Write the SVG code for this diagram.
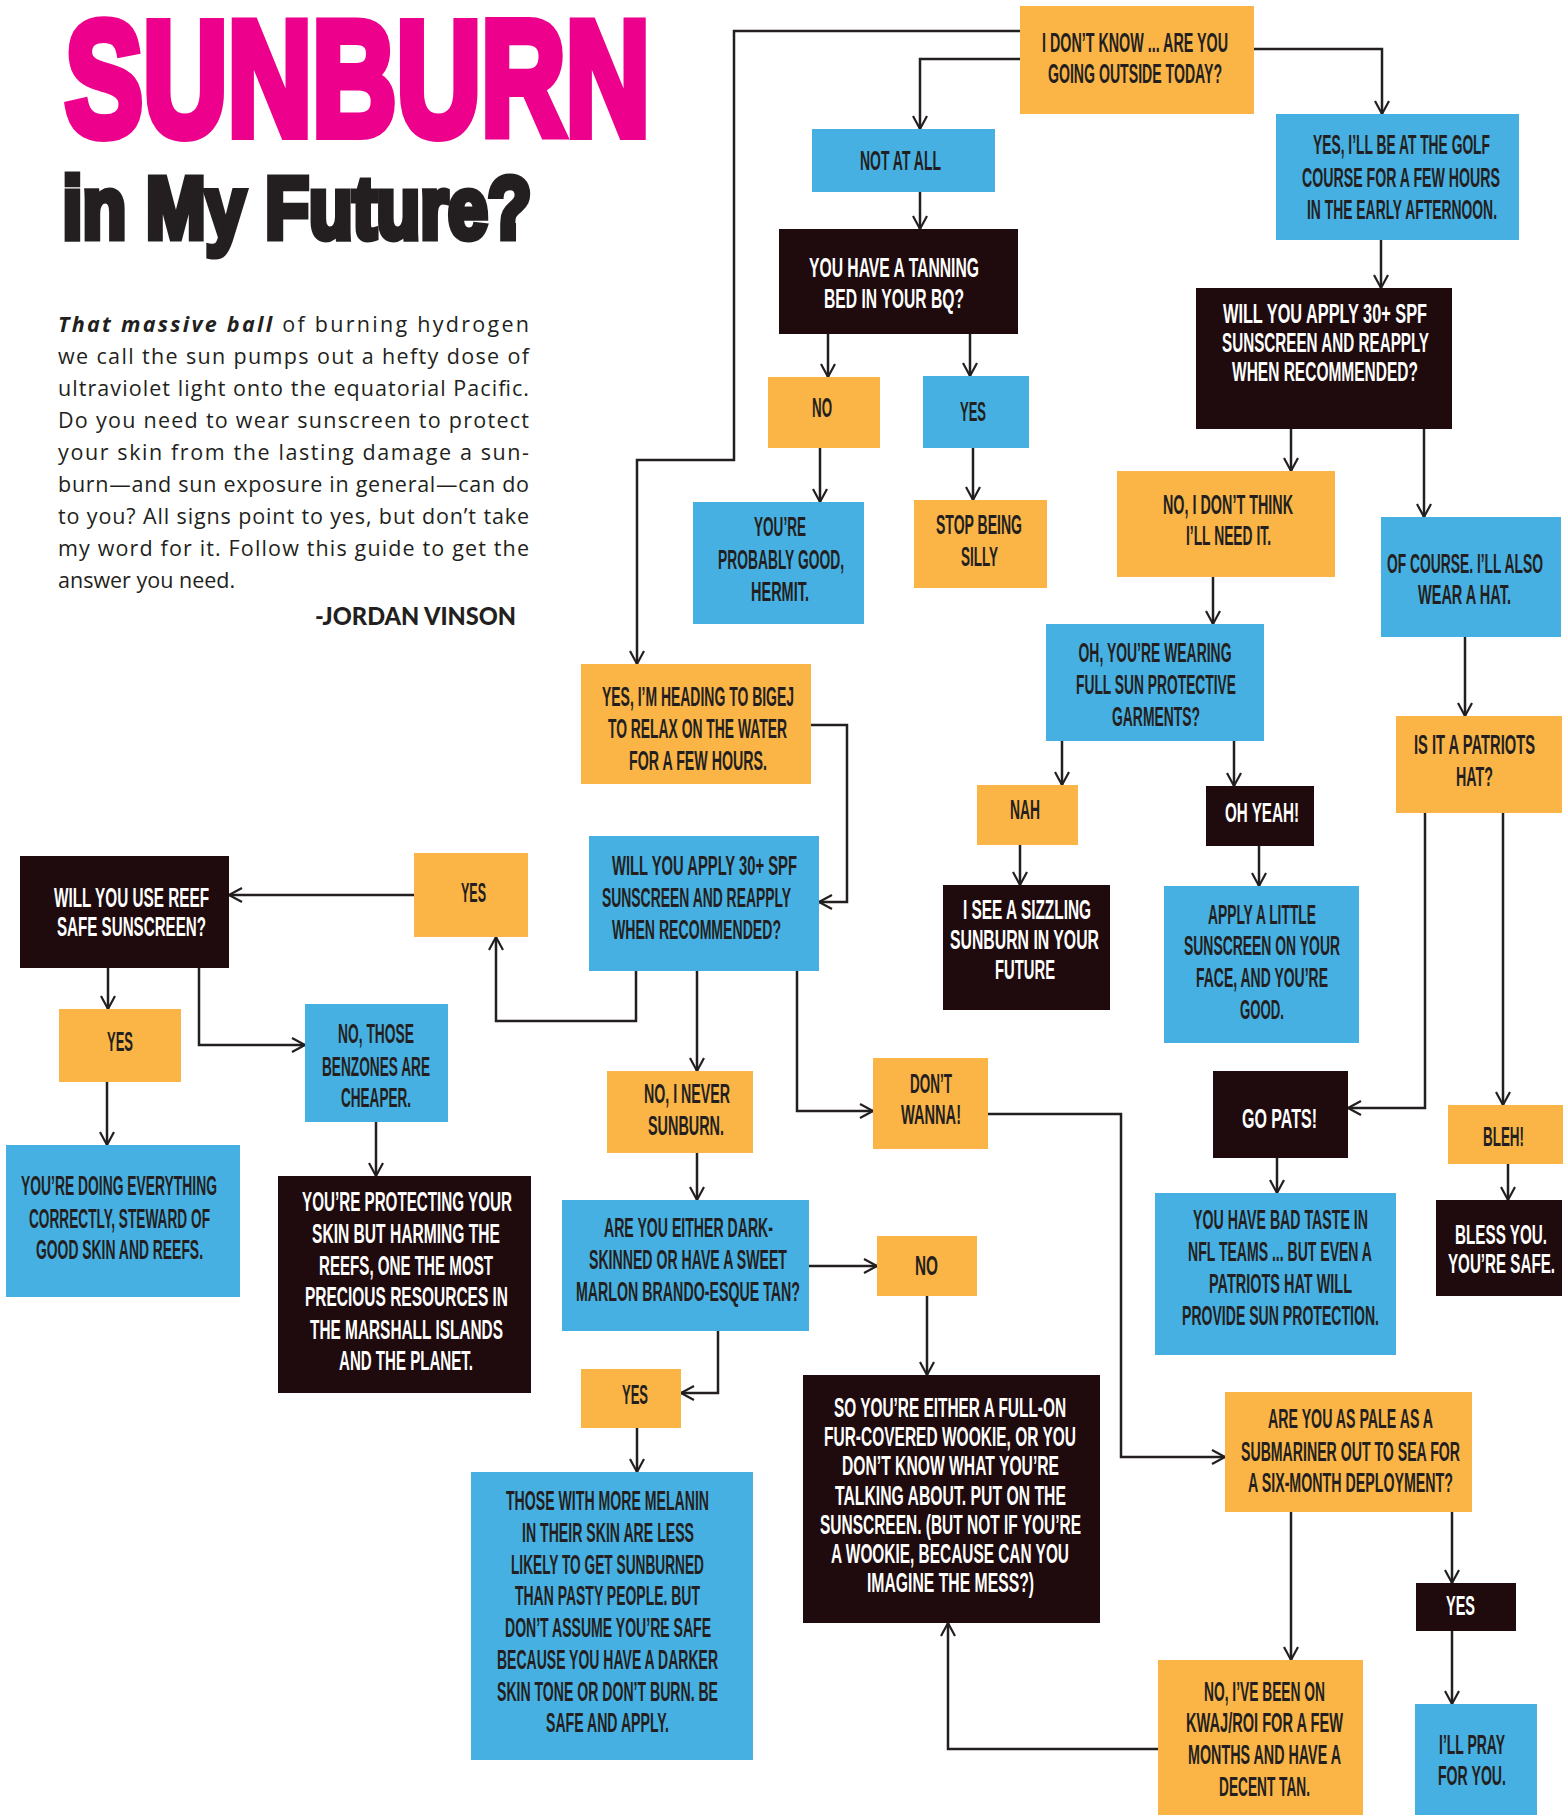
<svg xmlns="http://www.w3.org/2000/svg" width="1564" height="1819" viewBox="0 0 1564 1819">
<style>
.o{fill:#FBB546}.b{fill:#46B0E3}.d{fill:#1F0B0D}
.t{font-family:"Liberation Sans Narrow","Liberation Sans",Arial,sans-serif;font-size:27px;font-weight:bold;text-anchor:middle;fill:#231F20}
.w{fill:#FFFFFF}
.c path{fill:none;stroke:#231F20;stroke-width:2.5;marker-end:url(#ah)}
.p{font-family:"Open Sans","Noto Sans",sans-serif;font-size:21.5px;fill:#231F20}
</style>
<defs>
<marker id="ah" markerUnits="userSpaceOnUse" markerWidth="18" markerHeight="18" refX="14" refY="8" orient="auto">
<path d="M1,1 L14,8 L1,15" fill="none" stroke="#231F20" stroke-width="2.2"/>
</marker>
</defs>
<rect width="1564" height="1819" fill="#FFFFFF"/>

<g id="title">
<text x="65" y="135" font-family="Liberation Sans,Arial,sans-serif" font-weight="bold" font-size="163" fill="#EC008C" stroke="#EC008C" stroke-width="10" stroke-linejoin="miter" textLength="585" lengthAdjust="spacingAndGlyphs">SUNBURN</text>
<text x="62.5" y="237.5" font-family="Liberation Sans,Arial,sans-serif" font-weight="bold" font-size="87" fill="#231F20" stroke="#231F20" stroke-width="7" stroke-linejoin="miter" textLength="469" lengthAdjust="spacingAndGlyphs">in My Future?</text>
</g>
<g id="intro" class="p">
<text x="58" y="332" textLength="471" lengthAdjust="spacing"><tspan font-weight="bold" font-style="italic">That massive ball</tspan> of burning hydrogen</text>
<text x="58" y="364" textLength="471" lengthAdjust="spacing">we call the sun pumps out a hefty dose of</text>
<text x="58" y="396" textLength="471" lengthAdjust="spacing">ultraviolet light onto the equatorial Pacific.</text>
<text x="58" y="428" textLength="471" lengthAdjust="spacing">Do you need to wear sunscreen to protect</text>
<text x="58" y="460" textLength="471" lengthAdjust="spacing">your skin from the lasting damage a sun-</text>
<text x="58" y="492" textLength="471" lengthAdjust="spacing">burn—and sun exposure in general—can do</text>
<text x="58" y="524" textLength="471" lengthAdjust="spacing">to you? All signs point to yes, but don’t take</text>
<text x="58" y="556" textLength="471" lengthAdjust="spacing">my word for it. Follow this guide to get the</text>
<text x="58" y="588">answer you need.</text>
<text x="315" y="625" font-family="Lato,sans-serif" font-weight="900" font-size="25" textLength="201" lengthAdjust="spacingAndGlyphs">-JORDAN VINSON</text>
</g>

<g class="c" id="connectors">
<path d="M1020,31 H734 V460 H637 V664"/>
<path d="M1020,59 H920 V129"/>
<path d="M1254,49 H1382 V114"/>
<path d="M920,192 V229"/>
<path d="M828,334 V377"/>
<path d="M970,334 V376"/>
<path d="M820,448 V502"/>
<path d="M973,448 V500"/>
<path d="M1381,240 V288"/>
<path d="M1291,429 V471"/>
<path d="M1424,429 V517"/>
<path d="M1213,577 V624"/>
<path d="M1062,741 V785"/>
<path d="M1234,741 V786"/>
<path d="M1020,845 V885"/>
<path d="M1259,846 V886"/>
<path d="M1465,637 V716"/>
<path d="M1425,813 V1108 H1348"/>
<path d="M1503,813 V1105"/>
<path d="M1277,1158 V1193"/>
<path d="M1508,1164 V1200"/>
<path d="M811,725 H847 V902 H819"/>
<path d="M636,971 V1021 H496 V937"/>
<path d="M414,895 H229"/>
<path d="M697,971 V1071"/>
<path d="M797,971 V1111 H873"/>
<path d="M108,968 V1009"/>
<path d="M199,968 V1045 H305"/>
<path d="M107,1082 V1145"/>
<path d="M376,1122 V1176"/>
<path d="M697,1153 V1200"/>
<path d="M809,1266 H877"/>
<path d="M718,1331 V1393 H681"/>
<path d="M637,1428 V1472"/>
<path d="M927,1296 V1375"/>
<path d="M988,1114 H1121 V1457 H1225"/>
<path d="M1291,1512 V1660"/>
<path d="M1452,1512 V1583"/>
<path d="M1452,1631 V1704"/>
<path d="M1158,1749 H948 V1623"/>
</g>

<g id="n1"><rect class="o" x="1020" y="6" width="234" height="108"/>
<text class="t" x="1135" y="52" textLength="186" lengthAdjust="spacingAndGlyphs">I DON’T KNOW ... ARE YOU</text>
<text class="t" x="1135" y="83" textLength="174" lengthAdjust="spacingAndGlyphs">GOING OUTSIDE TODAY?</text></g>
<g id="n2"><rect class="b" x="812" y="129" width="183" height="63"/>
<text class="t" x="900.5" y="170" textLength="81" lengthAdjust="spacingAndGlyphs">NOT AT ALL</text></g>
<g id="n3"><rect class="d" x="779" y="229" width="239" height="105"/>
<text class="t w" x="894" y="277" textLength="170" lengthAdjust="spacingAndGlyphs">YOU HAVE A TANNING</text>
<text class="t w" x="894" y="308" textLength="140" lengthAdjust="spacingAndGlyphs">BED IN YOUR BQ?</text></g>
<g id="n4"><rect class="o" x="768" y="377" width="112" height="71"/>
<text class="t" x="822" y="417" textLength="20" lengthAdjust="spacingAndGlyphs">NO</text></g>
<g id="n5"><rect class="b" x="923" y="376" width="106" height="72"/>
<text class="t" x="973" y="421" textLength="26" lengthAdjust="spacingAndGlyphs">YES</text></g>
<g id="n6"><rect class="b" x="693" y="502" width="171" height="122"/>
<text class="t" x="780" y="536" textLength="52" lengthAdjust="spacingAndGlyphs">YOU’RE</text>
<text class="t" x="781" y="569" textLength="126" lengthAdjust="spacingAndGlyphs">PROBABLY GOOD,</text>
<text class="t" x="780" y="601" textLength="58" lengthAdjust="spacingAndGlyphs">HERMIT.</text></g>
<g id="n7"><rect class="o" x="914" y="500" width="133" height="88"/>
<text class="t" x="979" y="534" textLength="86" lengthAdjust="spacingAndGlyphs">STOP BEING</text>
<text class="t" x="979.5" y="566" textLength="37" lengthAdjust="spacingAndGlyphs">SILLY</text></g>
<g id="n8"><rect class="b" x="1276" y="114" width="243" height="126"/>
<text class="t" x="1401.5" y="154" textLength="177" lengthAdjust="spacingAndGlyphs">YES, I’LL BE AT THE GOLF</text>
<text class="t" x="1401" y="187" textLength="198" lengthAdjust="spacingAndGlyphs">COURSE FOR A FEW HOURS</text>
<text class="t" x="1402" y="219" textLength="190" lengthAdjust="spacingAndGlyphs">IN THE EARLY AFTERNOON.</text></g>
<g id="n9"><rect class="d" x="1196" y="288" width="256" height="141"/>
<text class="t w" x="1325" y="323" textLength="204" lengthAdjust="spacingAndGlyphs">WILL YOU APPLY 30+ SPF</text>
<text class="t w" x="1325.5" y="352" textLength="207" lengthAdjust="spacingAndGlyphs">SUNSCREEN AND REAPPLY</text>
<text class="t w" x="1325" y="381" textLength="186" lengthAdjust="spacingAndGlyphs">WHEN RECOMMENDED?</text></g>
<g id="n10"><rect class="o" x="1117" y="471" width="218" height="106"/>
<text class="t" x="1228" y="514" textLength="130" lengthAdjust="spacingAndGlyphs">NO, I DON’T THINK</text>
<text class="t" x="1228.5" y="545" textLength="85" lengthAdjust="spacingAndGlyphs">I’LL NEED IT.</text></g>
<g id="n11"><rect class="b" x="1381" y="517" width="180" height="120"/>
<text class="t" x="1465" y="573" textLength="156" lengthAdjust="spacingAndGlyphs">OF COURSE. I’LL ALSO</text>
<text class="t" x="1464.5" y="604" textLength="93" lengthAdjust="spacingAndGlyphs">WEAR A HAT.</text></g>
<g id="n12"><rect class="b" x="1046" y="624" width="218" height="117"/>
<text class="t" x="1155" y="662" textLength="153" lengthAdjust="spacingAndGlyphs">OH, YOU’RE WEARING</text>
<text class="t" x="1156" y="694" textLength="160" lengthAdjust="spacingAndGlyphs">FULL SUN PROTECTIVE</text>
<text class="t" x="1156" y="726" textLength="88" lengthAdjust="spacingAndGlyphs">GARMENTS?</text></g>
<g id="n13"><rect class="o" x="977" y="785" width="101" height="60"/>
<text class="t" x="1025" y="819" textLength="30" lengthAdjust="spacingAndGlyphs">NAH</text></g>
<g id="n14"><rect class="d" x="1206" y="786" width="108" height="60"/>
<text class="t w" x="1262" y="822" textLength="74" lengthAdjust="spacingAndGlyphs">OH YEAH!</text></g>
<g id="n15"><rect class="d" x="943" y="885" width="167" height="125"/>
<text class="t w" x="1027" y="919" textLength="128" lengthAdjust="spacingAndGlyphs">I SEE A SIZZLING</text>
<text class="t w" x="1024.5" y="949" textLength="149" lengthAdjust="spacingAndGlyphs">SUNBURN IN YOUR</text>
<text class="t w" x="1025" y="979" textLength="60" lengthAdjust="spacingAndGlyphs">FUTURE</text></g>
<g id="n16"><rect class="b" x="1164" y="886" width="195" height="157"/>
<text class="t" x="1262" y="924" textLength="108" lengthAdjust="spacingAndGlyphs">APPLY A LITTLE</text>
<text class="t" x="1262" y="955" textLength="156" lengthAdjust="spacingAndGlyphs">SUNSCREEN ON YOUR</text>
<text class="t" x="1262" y="987" textLength="132" lengthAdjust="spacingAndGlyphs">FACE, AND YOU’RE</text>
<text class="t" x="1262" y="1019" textLength="44" lengthAdjust="spacingAndGlyphs">GOOD.</text></g>
<g id="n17"><rect class="o" x="1396" y="716" width="166" height="97"/>
<text class="t" x="1474.5" y="754" textLength="121" lengthAdjust="spacingAndGlyphs">IS IT A PATRIOTS</text>
<text class="t" x="1474.5" y="786" textLength="37" lengthAdjust="spacingAndGlyphs">HAT?</text></g>
<g id="n18"><rect class="o" x="873" y="1058" width="115" height="91"/>
<text class="t" x="931" y="1093" textLength="42" lengthAdjust="spacingAndGlyphs">DON’T</text>
<text class="t" x="931" y="1124" textLength="60" lengthAdjust="spacingAndGlyphs">WANNA!</text></g>
<g id="n19"><rect class="d" x="1213" y="1071" width="135" height="87"/>
<text class="t w" x="1279.5" y="1128" textLength="75" lengthAdjust="spacingAndGlyphs">GO PATS!</text></g>
<g id="n20"><rect class="o" x="1448" y="1105" width="115" height="59"/>
<text class="t" x="1503.5" y="1146" textLength="41" lengthAdjust="spacingAndGlyphs">BLEH!</text></g>
<g id="n21"><rect class="b" x="1155" y="1193" width="241" height="162"/>
<text class="t" x="1280.5" y="1229" textLength="175" lengthAdjust="spacingAndGlyphs">YOU HAVE BAD TASTE IN</text>
<text class="t" x="1280" y="1261" textLength="184" lengthAdjust="spacingAndGlyphs">NFL TEAMS ... BUT EVEN A</text>
<text class="t" x="1280.5" y="1293" textLength="143" lengthAdjust="spacingAndGlyphs">PATRIOTS HAT WILL</text>
<text class="t" x="1280.5" y="1325" textLength="197" lengthAdjust="spacingAndGlyphs">PROVIDE SUN PROTECTION.</text></g>
<g id="n22"><rect class="d" x="1436" y="1200" width="126" height="96"/>
<text class="t w" x="1501" y="1244" textLength="92" lengthAdjust="spacingAndGlyphs">BLESS YOU.</text>
<text class="t w" x="1501.5" y="1273" textLength="107" lengthAdjust="spacingAndGlyphs">YOU’RE SAFE.</text></g>
<g id="n23"><rect class="o" x="877" y="1236" width="100" height="60"/>
<text class="t" x="926.5" y="1275" textLength="23" lengthAdjust="spacingAndGlyphs">NO</text></g>
<g id="n24"><rect class="d" x="803" y="1375" width="297" height="248"/>
<text class="t w" x="950" y="1417" textLength="232" lengthAdjust="spacingAndGlyphs">SO YOU’RE EITHER A FULL-ON</text>
<text class="t w" x="950" y="1446" textLength="252" lengthAdjust="spacingAndGlyphs">FUR-COVERED WOOKIE, OR YOU</text>
<text class="t w" x="950.5" y="1475" textLength="217" lengthAdjust="spacingAndGlyphs">DON’T KNOW WHAT YOU’RE</text>
<text class="t w" x="950.5" y="1505" textLength="231" lengthAdjust="spacingAndGlyphs">TALKING ABOUT.  PUT ON THE</text>
<text class="t w" x="950.5" y="1534" textLength="261" lengthAdjust="spacingAndGlyphs">SUNSCREEN. (BUT NOT IF YOU’RE</text>
<text class="t w" x="950" y="1563" textLength="238" lengthAdjust="spacingAndGlyphs">A WOOKIE, BECAUSE CAN YOU</text>
<text class="t w" x="950.5" y="1592" textLength="167" lengthAdjust="spacingAndGlyphs">IMAGINE THE MESS?)</text></g>
<g id="n25"><rect class="o" x="1225" y="1392" width="247" height="120"/>
<text class="t" x="1350.5" y="1428" textLength="165" lengthAdjust="spacingAndGlyphs">ARE YOU AS PALE AS A</text>
<text class="t" x="1350.5" y="1461" textLength="219" lengthAdjust="spacingAndGlyphs">SUBMARINER OUT TO SEA FOR</text>
<text class="t" x="1350.5" y="1492" textLength="205" lengthAdjust="spacingAndGlyphs">A SIX-MONTH DEPLOYMENT?</text></g>
<g id="n26"><rect class="d" x="1416" y="1583" width="100" height="48"/>
<text class="t w" x="1460.5" y="1615" textLength="29" lengthAdjust="spacingAndGlyphs">YES</text></g>
<g id="n27"><rect class="o" x="1158" y="1660" width="205" height="155"/>
<text class="t" x="1264.5" y="1701" textLength="121" lengthAdjust="spacingAndGlyphs">NO, I’VE BEEN ON</text>
<text class="t" x="1264.5" y="1732" textLength="157" lengthAdjust="spacingAndGlyphs">KWAJ/ROI FOR A FEW</text>
<text class="t" x="1264.5" y="1764" textLength="153" lengthAdjust="spacingAndGlyphs">MONTHS AND HAVE A</text>
<text class="t" x="1264.5" y="1796" textLength="91" lengthAdjust="spacingAndGlyphs">DECENT TAN.</text></g>
<g id="n28"><rect class="b" x="1415" y="1704" width="122" height="111"/>
<text class="t" x="1472" y="1754" textLength="66" lengthAdjust="spacingAndGlyphs">I’LL PRAY</text>
<text class="t" x="1472" y="1785" textLength="68" lengthAdjust="spacingAndGlyphs">FOR YOU.</text></g>
<g id="n29"><rect class="o" x="581" y="664" width="230" height="120"/>
<text class="t" x="698" y="706" textLength="192" lengthAdjust="spacingAndGlyphs">YES, I’M HEADING TO BIGEJ</text>
<text class="t" x="697.5" y="738" textLength="179" lengthAdjust="spacingAndGlyphs">TO RELAX ON THE WATER</text>
<text class="t" x="698" y="770" textLength="138" lengthAdjust="spacingAndGlyphs">FOR A FEW HOURS.</text></g>
<g id="n30"><rect class="b" x="589" y="836" width="230" height="135"/>
<text class="t" x="704.5" y="875" textLength="185" lengthAdjust="spacingAndGlyphs">WILL YOU APPLY 30+ SPF</text>
<text class="t" x="696.5" y="907" textLength="189" lengthAdjust="spacingAndGlyphs">SUNSCREEN AND REAPPLY</text>
<text class="t" x="696.5" y="939" textLength="169" lengthAdjust="spacingAndGlyphs">WHEN RECOMMENDED?</text></g>
<g id="n31"><rect class="o" x="414" y="853" width="114" height="84"/>
<text class="t" x="473.5" y="902" textLength="25" lengthAdjust="spacingAndGlyphs">YES</text></g>
<g id="n32"><rect class="d" x="20" y="856" width="209" height="112"/>
<text class="t w" x="131.5" y="907" textLength="155" lengthAdjust="spacingAndGlyphs">WILL YOU USE REEF</text>
<text class="t w" x="131.5" y="936" textLength="149" lengthAdjust="spacingAndGlyphs">SAFE SUNSCREEN?</text></g>
<g id="n33"><rect class="o" x="59" y="1009" width="122" height="73"/>
<text class="t" x="120" y="1051" textLength="26" lengthAdjust="spacingAndGlyphs">YES</text></g>
<g id="n34"><rect class="b" x="305" y="1004" width="143" height="118"/>
<text class="t" x="376" y="1043" textLength="76" lengthAdjust="spacingAndGlyphs">NO, THOSE</text>
<text class="t" x="376" y="1076" textLength="108" lengthAdjust="spacingAndGlyphs">BENZONES ARE</text>
<text class="t" x="376" y="1107" textLength="70" lengthAdjust="spacingAndGlyphs">CHEAPER.</text></g>
<g id="n35"><rect class="b" x="6" y="1145" width="234" height="152"/>
<text class="t" x="119" y="1195" textLength="196" lengthAdjust="spacingAndGlyphs">YOU’RE DOING EVERYTHING</text>
<text class="t" x="119.5" y="1228" textLength="181" lengthAdjust="spacingAndGlyphs">CORRECTLY, STEWARD OF</text>
<text class="t" x="119.5" y="1259" textLength="167" lengthAdjust="spacingAndGlyphs">GOOD SKIN AND REEFS.</text></g>
<g id="n36"><rect class="d" x="278" y="1176" width="253" height="217"/>
<text class="t w" x="407" y="1211" textLength="210" lengthAdjust="spacingAndGlyphs">YOU’RE PROTECTING YOUR</text>
<text class="t w" x="406" y="1243" textLength="188" lengthAdjust="spacingAndGlyphs">SKIN BUT HARMING THE</text>
<text class="t w" x="406" y="1275" textLength="174" lengthAdjust="spacingAndGlyphs">REEFS, ONE THE MOST</text>
<text class="t w" x="406.5" y="1306" textLength="203" lengthAdjust="spacingAndGlyphs">PRECIOUS RESOURCES IN</text>
<text class="t w" x="406.5" y="1339" textLength="193" lengthAdjust="spacingAndGlyphs">THE MARSHALL ISLANDS</text>
<text class="t w" x="406" y="1370" textLength="134" lengthAdjust="spacingAndGlyphs">AND THE PLANET.</text></g>
<g id="n37"><rect class="o" x="607" y="1071" width="146" height="82"/>
<text class="t" x="687" y="1103" textLength="86" lengthAdjust="spacingAndGlyphs">NO, I NEVER</text>
<text class="t" x="686" y="1135" textLength="76" lengthAdjust="spacingAndGlyphs">SUNBURN.</text></g>
<g id="n38"><rect class="b" x="562" y="1200" width="247" height="131"/>
<text class="t" x="688.5" y="1237" textLength="169" lengthAdjust="spacingAndGlyphs">ARE YOU EITHER DARK-</text>
<text class="t" x="688" y="1269" textLength="198" lengthAdjust="spacingAndGlyphs">SKINNED OR HAVE A SWEET</text>
<text class="t" x="688" y="1301" textLength="224" lengthAdjust="spacingAndGlyphs">MARLON BRANDO-ESQUE TAN?</text></g>
<g id="n39"><rect class="o" x="581" y="1369" width="100" height="59"/>
<text class="t" x="635" y="1404" textLength="26" lengthAdjust="spacingAndGlyphs">YES</text></g>
<g id="n40"><rect class="b" x="471" y="1472" width="282" height="288"/>
<text class="t" x="607.5" y="1510" textLength="203" lengthAdjust="spacingAndGlyphs">THOSE WITH MORE MELANIN</text>
<text class="t" x="608" y="1542" textLength="172" lengthAdjust="spacingAndGlyphs">IN THEIR SKIN ARE LESS</text>
<text class="t" x="607.5" y="1574" textLength="193" lengthAdjust="spacingAndGlyphs">LIKELY TO GET SUNBURNED</text>
<text class="t" x="607.5" y="1605" textLength="185" lengthAdjust="spacingAndGlyphs">THAN PASTY PEOPLE. BUT</text>
<text class="t" x="608" y="1637" textLength="206" lengthAdjust="spacingAndGlyphs">DON’T ASSUME YOU’RE SAFE</text>
<text class="t" x="607.5" y="1669" textLength="221" lengthAdjust="spacingAndGlyphs">BECAUSE YOU HAVE A DARKER</text>
<text class="t" x="607.5" y="1701" textLength="221" lengthAdjust="spacingAndGlyphs">SKIN TONE OR DON’T BURN. BE</text>
<text class="t" x="607.5" y="1732" textLength="123" lengthAdjust="spacingAndGlyphs">SAFE AND APPLY.</text></g>
</svg>
